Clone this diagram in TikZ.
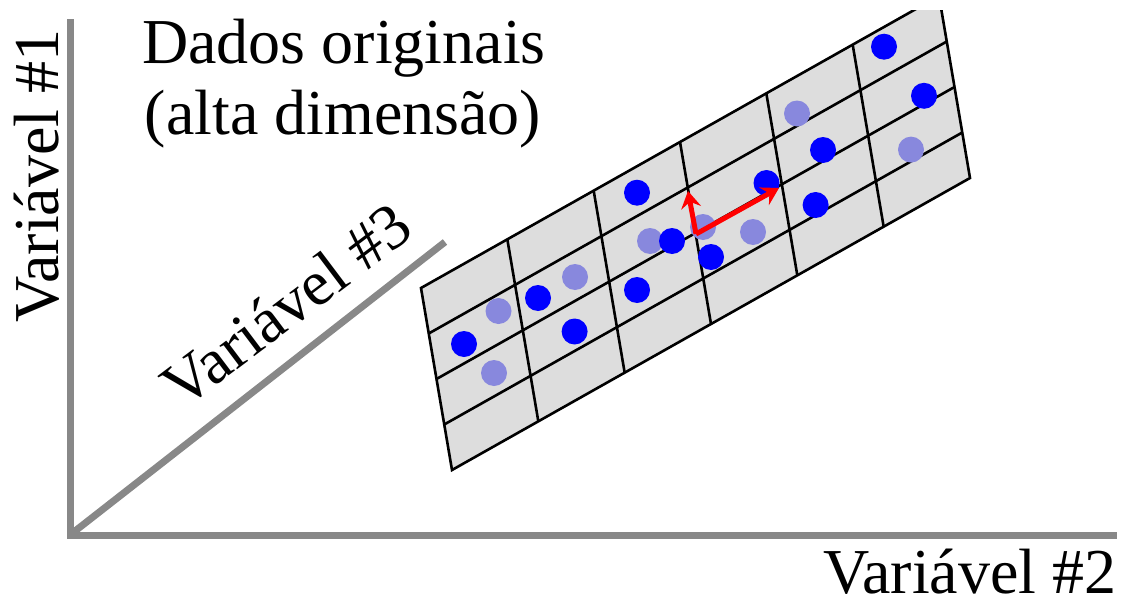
\documentclass[tikz,border=0pt]{standalone}
\usepackage{fontspec}
\setmainfont{Liberation Serif}
\usetikzlibrary{calc,arrows.meta}
\definecolor{axisgray}{HTML}{888888}
\definecolor{gridfill}{HTML}{DDDDDD}
\definecolor{darkdot}{HTML}{0000FF}
\definecolor{lightdot}{HTML}{8888DD}
\definecolor{vecred}{HTML}{FF0000}
\tikzset{
  axisline/.style={draw=axisgray,line width=7pt},
  gridline/.style={draw=black,line width=2.6pt},
  ddot/.style={fill=darkdot},
  ldot/.style={fill=lightdot},
  vec/.style={draw=vecred,line width=5pt,-{Stealth[length=17pt,width=20pt,inset=6pt]}},
  lbl/.style={inner sep=0pt,font=\fontsize{64}{72}\selectfont},
  ttl/.style={inner sep=0pt,font=\fontsize{64}{72}\selectfont},
}
\begin{document}
\begin{tikzpicture}[x=1pt,y=-1pt]
\useasboundingbox (0,0) rectangle (1122,597);
% axes
\coordinate (O) at (70,535);
\coordinate (Ytop) at (70,19);
\coordinate (Xend) at (1117,535);
\coordinate (Zend) at (445,242);
\draw[axisline] (70,538.5) -- (Ytop);
\draw[axisline] (O) -- (Xend);
\draw[axisline] (72.5,533) -- (Zend);
% labels
\node[lbl,anchor=base west] (l2) at (823,593) {Variável \#2};
\node[lbl,anchor=base west,rotate=90] (l1) at (58,323) {Variável \#1};
\node[lbl,anchor=base west,rotate=37] (l3) at (182,411) {Variável \#3};
\node[ttl,anchor=base] (t1) at (344,63.3) {Dados originais};
\node[ttl,anchor=base] (t2) at (343,134) {(alta dimensão)};
% grid
\coordinate (A) at (421,288);
\coordinate (B) at (452,470);
\coordinate (C) at (970,178);
\coordinate (D) at (939,-4);
\begin{scope}
\clip (0,10) rectangle (1122,597);
\fill[gridfill] (A) -- (B) -- (C) -- (D) -- cycle;
\foreach \i in {1,...,5}{
  \draw[gridline] ($(A)!\i/6!(D)$) -- ($(B)!\i/6!(C)$);
}
\foreach \j in {1,2,3}{
  \draw[gridline] ($(A)!\j/4!(B)$) -- ($(D)!\j/4!(C)$);
}
\draw[gridline,line join=miter] (D) -- (A) -- (B) -- (C) -- (D);
% light dots
\foreach \x/\y [count=\k] in {797/113.5,911/149.6,703/227,753/232,650/241,575/277,498.5/311,494/373}{
  \fill[ldot] (\x,\y) circle[radius=13pt];
}
% dark dots
\foreach \x/\y [count=\k] in {884/46.7,924/95.8,823/150,766.5/183,815.6/205,637/192.7,672/241,711/257,637/290,538/298,574.6/331.5,464/344}{
  \fill[ddot] (\x,\y) circle[radius=13pt];
}
\end{scope}
% vectors
\coordinate (P0) at (696,234);
\coordinate (P1) at (688,191);
\coordinate (P2) at (779,188);
\draw[vec] (P0) -- (P1);
\draw[vec] (P0) -- (P2);
\end{tikzpicture}
\end{document}
